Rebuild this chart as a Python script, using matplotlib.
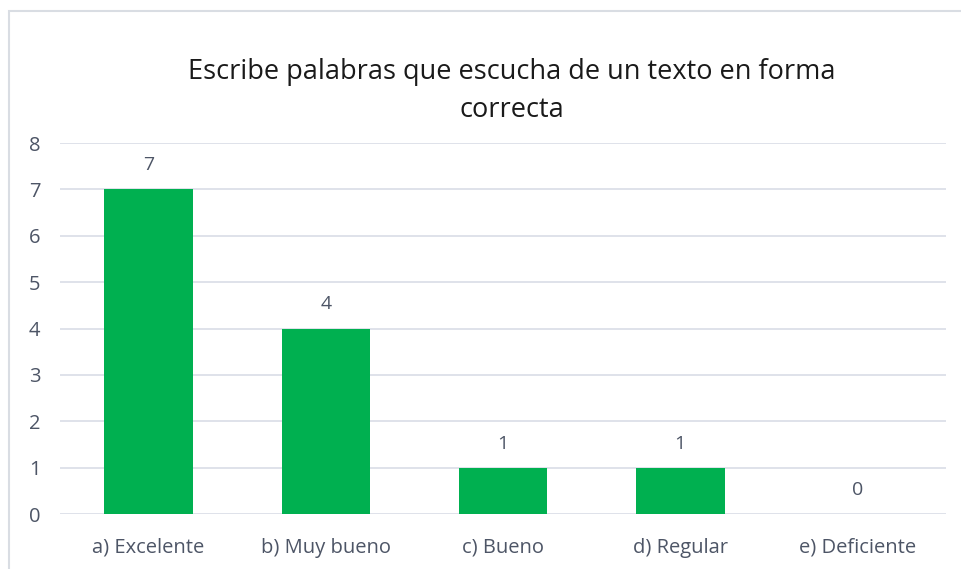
import matplotlib.pyplot as plt
from matplotlib.patches import Rectangle

categories = ["a) Excelente", "b) Muy bueno", "c) Bueno", "d) Regular", "e) Deficiente"]
values = [7, 4, 1, 1, 0]
title = "Escribe palabras que escucha de un texto en forma\ncorrecta"

W, H = 961, 569
fig = plt.figure(figsize=(W / 100, H / 100), dpi=100)
plt.rcParams['font.family'] = ['Open Sans', 'DejaVu Sans']

# marco gris claro alrededor del grafico (cortado a la derecha y abajo)
fig.patches.append(Rectangle((9 / W, -0.1), 1.1, (H - 11) / H + 0.1, transform=fig.transFigure,
                             fill=False, edgecolor='#d9dde3', linewidth=1.5))

ax = fig.add_axes([60 / W, 55 / H, 886 / W, 371 / H])
x = range(len(categories))
ax.bar(x, values, width=0.5, color='#00b050', zorder=3)
for i, v in enumerate(values):
    ax.text(i, v + 0.52, str(v), ha='center', va='center', fontsize=14, color='#4d5566')

ax.set_xlim(-0.5, len(categories) - 0.5)
ax.set_ylim(0, 8)
ax.set_yticks(range(0, 9))
ax.set_xticks(list(x))
ax.set_xticklabels(categories)
ax.grid(axis='y', color='#d9dde6', linewidth=1.2, zorder=0)
for s in ax.spines.values():
    s.set_visible(False)
ax.tick_params(length=0, labelsize=14.5, colors='#4d5566')
ax.tick_params(axis='y', pad=14)
ax.tick_params(axis='x', pad=17)

fig.text(512 / W, 1 - 91 / H, title, ha='center', va='center', fontsize=19.5, color='#1a1a1a',
         linespacing=1.45)

fig.savefig('out.png', dpi=100)
